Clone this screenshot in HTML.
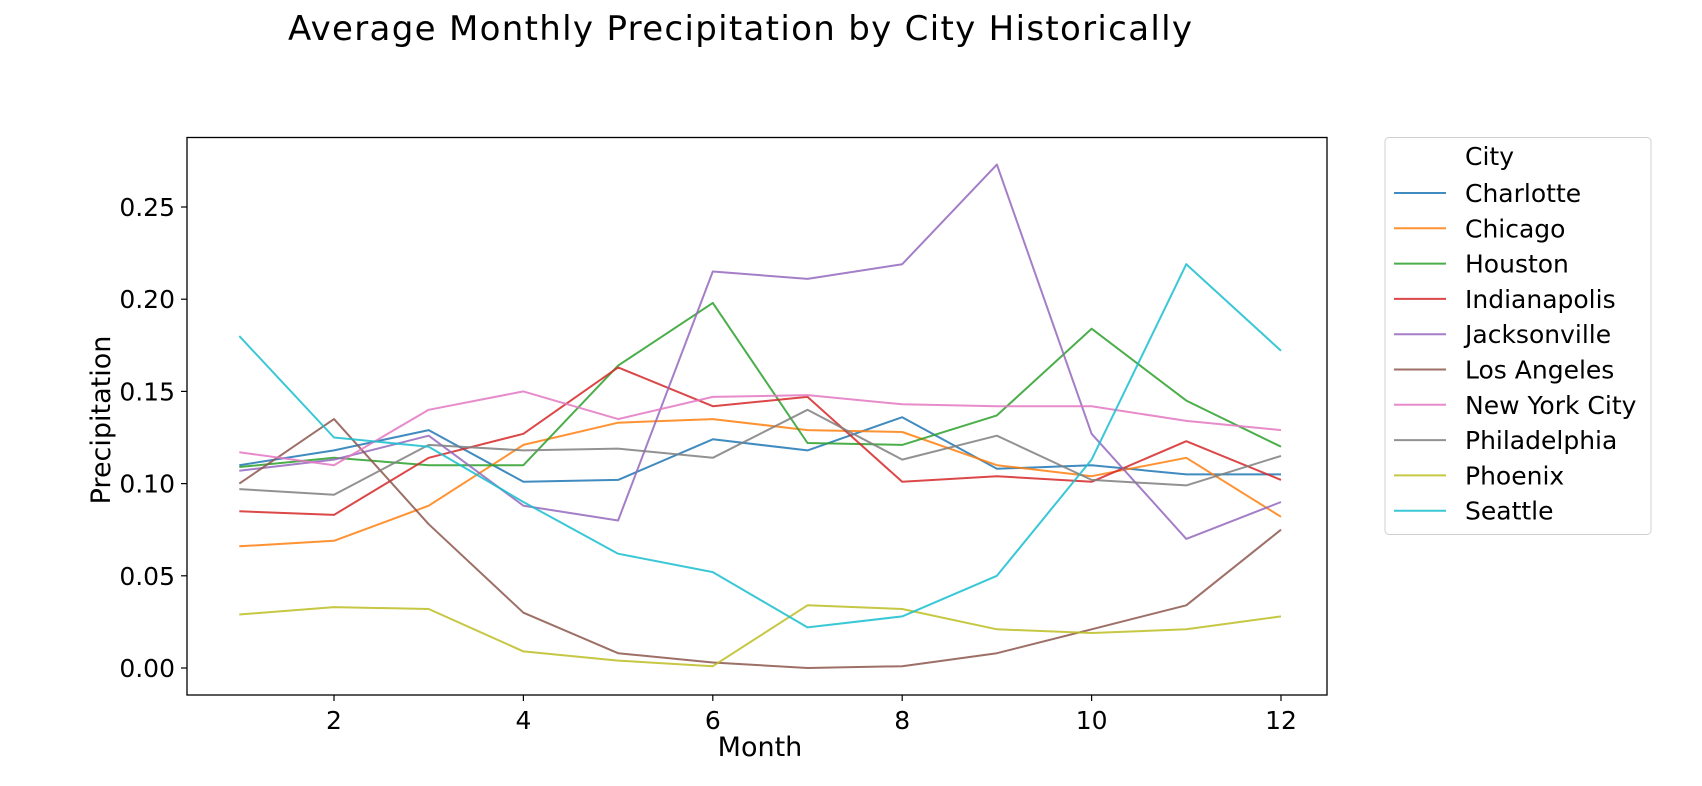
<!DOCTYPE html>
<html><head><meta charset="utf-8"><style>
html,body{margin:0;padding:0;background:#fff;}
svg{display:block;font-family:"DejaVu Sans","Liberation Sans",sans-serif;}
</style></head><body>
<svg id="chart" width="1702" height="786" viewBox="0 0 1702 786">
<text x="740" y="40" font-size="34" text-anchor="middle" textLength="904" fill="#000">Average Monthly Precipitation by City Historically</text>
<g id="axes"></g>
<text x="760" y="756" font-size="27" text-anchor="middle" fill="#000">Month</text>
<text x="0" y="0" font-size="27" text-anchor="middle" fill="#000" transform="translate(110,420) rotate(-90)">Precipitation</text>
<g id="legend"></g>
</svg>
<script>
const months = [1,2,3,4,5,6,7,8,9,10,11,12];
const xTicks = [2,4,6,8,10,12];
const yTicks = [0,0.05,0.10,0.15,0.20,0.25];
const yTickLabels = ["0.00","0.05","0.10","0.15","0.20","0.25"];
const cities = ["Charlotte","Chicago","Houston","Indianapolis","Jacksonville","Los Angeles","New York City","Philadelphia","Phoenix","Seattle"];
const colors = ["#1f77b4","#ff7f0e","#2ca02c","#d62728","#9467bd","#8c564b","#e377c2","#7f7f7f","#bcbd22","#17becf"];
const charlotte = [0.110,0.118,0.129,0.101,0.102,0.124,0.118,0.136,0.108,0.110,0.105,0.105];
const chicago = [0.066,0.069,0.088,0.121,0.133,0.135,0.129,0.128,0.110,0.104,0.114,0.082];
const houston = [0.109,0.114,0.110,0.110,0.164,0.198,0.122,0.121,0.137,0.184,0.145,0.120];
const indianapolis = [0.085,0.083,0.114,0.127,0.163,0.142,0.147,0.101,0.104,0.101,0.123,0.102];
const jacksonville = [0.107,0.113,0.126,0.088,0.080,0.215,0.211,0.219,0.273,0.127,0.070,0.090];
const losAngeles = [0.100,0.135,0.078,0.030,0.008,0.003,0.000,0.001,0.008,0.021,0.034,0.075];
const newYorkCity = [0.117,0.110,0.140,0.150,0.135,0.147,0.148,0.143,0.142,0.142,0.134,0.129];
const philadelphia = [0.097,0.094,0.121,0.118,0.119,0.114,0.140,0.113,0.126,0.102,0.099,0.115];
const phoenix = [0.029,0.033,0.032,0.009,0.004,0.001,0.034,0.032,0.021,0.019,0.021,0.028];
const seattle = [0.180,0.125,0.120,0.090,0.062,0.052,0.022,0.028,0.050,0.113,0.219,0.172];
const series = [charlotte,chicago,houston,indianapolis,jacksonville,losAngeles,newYorkCity,philadelphia,phoenix,seattle];

const NS = "http://www.w3.org/2000/svg";
const L=187,R=1327,T=137.5,B=695;
const xS = m => 334 + (m-2)*94.7;
const yS = v => 668 - v*(668-207)/0.25;
function mk(tag, attrs, parent){const e=document.createElementNS(NS,tag);for(const k in attrs)e.setAttribute(k,attrs[k]);parent.appendChild(e);return e;}
const ax=document.getElementById('axes');
series.forEach((s,i)=>{
  const p=mk('polyline',{points:s.map((v,j)=>xS(months[j]).toFixed(1)+','+yS(v).toFixed(1)).join(' '),fill:'none',stroke:colors[i],'stroke-width':2,'stroke-opacity':0.85,'stroke-linejoin':'round'},ax);
  
  
});
mk('rect',{x:L,y:T,width:R-L,height:B-T,fill:'none',stroke:'#000','stroke-width':1.3},ax);
xTicks.forEach(t=>{
  mk('line',{x1:xS(t),x2:xS(t),y1:B,y2:B+6,stroke:'#000','stroke-width':1.2},ax);
  const tx=mk('text',{x:xS(t),y:B+34,'font-size':25,'text-anchor':'middle',fill:'#000'},ax);
  tx.textContent=t;
  
  
});
yTicks.forEach((t,i)=>{
  mk('line',{x1:L-6,x2:L,y1:yS(t),y2:yS(t),stroke:'#000','stroke-width':1.2},ax);
  const tx=mk('text',{x:L-12,y:yS(t)+9,'font-size':25,'text-anchor':'end',fill:'#000'},ax);
  tx.textContent=yTickLabels[i];
  
  
});
const lg=document.getElementById('legend');
mk('rect',{x:1385,y:137.5,width:266,height:397,rx:4,fill:'#fff',stroke:'#d0d0d0','stroke-width':1},lg);
const ct=mk('text',{x:1465,y:165,'font-size':25,fill:'#000'},lg);
ct.textContent='City';


cities.forEach((c,i)=>{
  const y=193+i*35.3;
  const g=mk('g',{},lg);
  
  
  mk('line',{x1:1394,x2:1446,y1:y,y2:y,stroke:colors[i],'stroke-width':2,'stroke-opacity':0.85},g);
  const t=mk('text',{x:1465,y:y+9,'font-size':25,fill:'#000'},g);
  t.textContent=c;
});
</script>
</body></html>
